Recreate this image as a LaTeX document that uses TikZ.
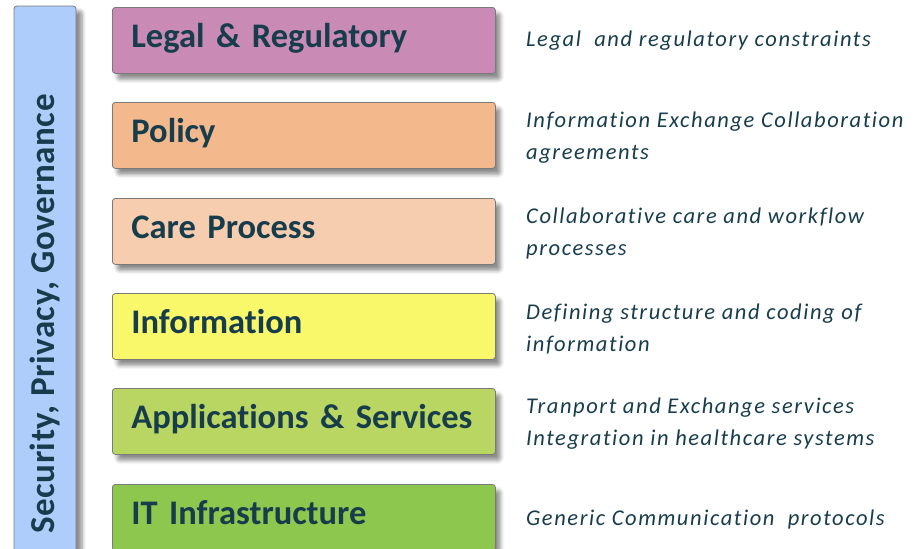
\documentclass[tikz,border=0pt]{standalone}
\usepackage{fontspec}
\setmainfont{Carlito}[Ligatures=NoCommon]
\newfontfamily\notefont{Carlito}[LetterSpace=7, Ligatures=NoCommon]
\newfontfamily\barfont{Carlito}[LetterSpace=1.5, Ligatures=NoCommon]
\usetikzlibrary{shadows.blur}

\definecolor{inkc}{HTML}{173D4C}
\definecolor{framec}{HTML}{7A7A7A}
\definecolor{barc}{HTML}{AECDFA}
\definecolor{legalc}{HTML}{C98BB5}
\definecolor{policyc}{HTML}{F3B98C}
\definecolor{carec}{HTML}{F6CDAF}
\definecolor{infoc}{HTML}{F8F86A}
\definecolor{appc}{HTML}{B9D562}
\definecolor{itc}{HTML}{8DC74E}

\tikzset{
  layer/.style={draw=framec, line width=0.8pt, rounded corners=3pt,
    anchor=north west, text width=345pt, inner xsep=19pt,
    minimum height=66pt, align=left, text=inkc,
    text height=24pt, text depth=10pt,
    font=\fontsize{34.5}{40}\selectfont\bfseries,
    blur shadow={shadow xshift=5pt, shadow yshift=-6pt,
      shadow opacity=45, shadow blur steps=6, shadow blur radius=4pt}},
  note/.style={anchor=west, align=left, text=inkc, inner sep=0pt,
    font=\notefont\fontsize{22.5}{32}\selectfont\itshape}
}

\begin{document}
\begin{tikzpicture}[x=1pt, y=-1pt]
    \useasboundingbox (0,0) rectangle (914,549);

    % Side bar
    \node[draw=framec, line width=0.8pt, rounded corners=3pt, fill=barc,
      rotate=90, minimum width=616pt, minimum height=62pt, inner sep=0pt,
      text=inkc, font=\barfont\fontsize{35}{40}\selectfont\bfseries,
      blur shadow={shadow xshift=6pt, shadow yshift=-5pt,
        shadow opacity=45, shadow blur steps=6, shadow blur radius=4pt}]
      (secbar) at (45,314) {Security, Privacy, Governance};

    % Layers
    \node[layer, fill=legalc] (legal) at (112,7) {Legal \& Regulatory};
    \node[layer, fill=policyc] (policy) at (112,102) {Policy};
    \node[layer, fill=carec] (care) at (112,198) {Care Process};
    \node[layer, fill=infoc] (info) at (112,293) {Information};
    \node[layer, fill=appc] (apps) at (112,388) {Applications \& Services};
    \node[layer, fill=itc] (infra) at (112,484) {IT Infrastructure};

    % Descriptions
    \node[note] (legalnote) at (526,41) {Legal\ \ and regulatory constraints};
    \node[note] (policynote) at (526,138) {Information Exchange Collaboration\\agreements};
    \node[note] (carenote) at (526,233) {Collaborative care and workflow\\processes};
    \node[note] (infonote) at (526,329) {Defining structure and coding of\\information};
    \node[note] (appsnote) at (526,424) {Tranport and Exchange services\\Integration in healthcare systems};
    \node[note] (infranote) at (526,519) {Generic Communication\ \ protocols};
\end{tikzpicture}
\end{document}
